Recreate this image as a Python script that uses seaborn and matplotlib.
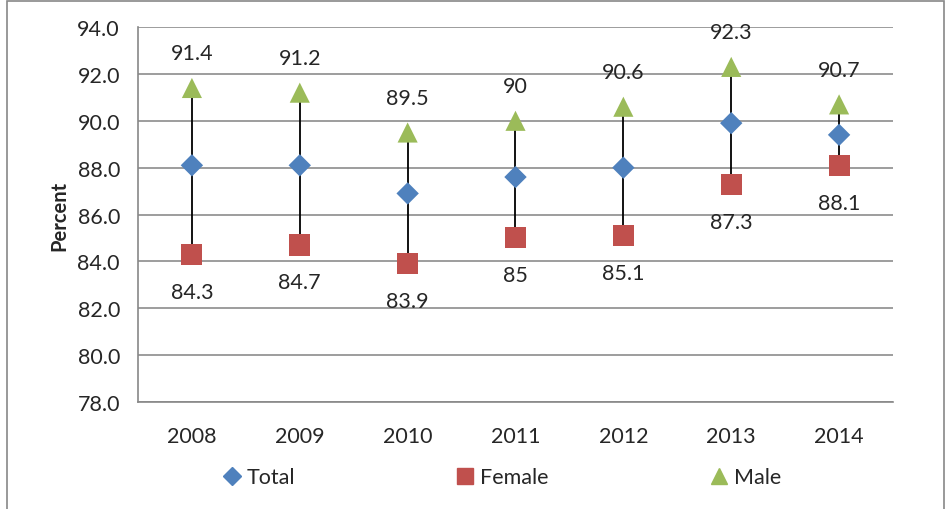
import numpy as np
import pandas as pd
import matplotlib
matplotlib.use('Agg')
import matplotlib.pyplot as plt
from matplotlib.patches import Rectangle
import seaborn as sns

years = ['2008', '2009', '2010', '2011', '2012', '2013', '2014']
total = [88.1, 88.1, 86.9, 87.6, 88.0, 89.9, 89.4]
female = [84.3, 84.7, 83.9, 85.0, 85.1, 87.3, 88.1]
male = [91.4, 91.2, 89.5, 90.0, 90.6, 92.3, 90.7]
female_labels = ['84.3', '84.7', '83.9', '85', '85.1', '87.3', '88.1']
male_labels = ['91.4', '91.2', '89.5', '90', '90.6', '92.3', '90.7']

sns.set_style('white')
plt.rcParams['font.family'] = ['Lato', 'DejaVu Sans']
fs = 15.5

df = pd.DataFrame({'year': years * 3,
                   'value': total + female + male,
                   'series': ['Total'] * 7 + ['Female'] * 7 + ['Male'] * 7})
df['x'] = df['year'].map({y: i for i, y in enumerate(years)})

colors = {'Total': '#4F81BD', 'Female': '#C0504D', 'Male': '#9BBB59'}
markers = {'Total': 'D', 'Female': 's', 'Male': '^'}
sizes = {'Total': 130, 'Female': 230, 'Male': 210}

fig = plt.figure(figsize=(9.47, 5.10), dpi=100)
fig.patches.append(Rectangle((0.007, -0.05), 0.99, 1.046, transform=fig.transFigure,
                             fill=False, edgecolor='#888888', linewidth=1.2))
ax = fig.add_axes([0.1457, 0.2098, 0.7973, 0.7352])

xs = np.arange(len(years))
ax.vlines(xs, female, male, color='black', linewidth=1.3, zorder=2)

for s in ['Total', 'Female', 'Male']:
    sub = df[df['series'] == s]
    sns.scatterplot(data=sub, x='x', y='value', marker=markers[s], color=colors[s],
                    s=sizes[s], edgecolor='none', ax=ax, zorder=3, label=s, legend=False)

for i in range(len(years)):
    ax.annotate(male_labels[i], (xs[i], male[i]), xytext=(0, 25), textcoords='offset points',
                ha='center', va='center', fontsize=fs)
    ax.annotate(female_labels[i], (xs[i], female[i]), xytext=(0, -27), textcoords='offset points',
                ha='center', va='center', fontsize=fs)

ax.set_xlim(-0.5, 6.5)
ax.set_ylim(78, 94)
ax.set_yticks(np.arange(78, 94.1, 2))
ax.set_yticklabels(['%.1f' % v for v in np.arange(78, 94.1, 2)], fontsize=fs)
ax.set_xticks(xs)
ax.set_xticklabels(years, fontsize=fs)
ax.set_xticks(np.arange(-0.5, 6.6, 1), minor=True)
ax.tick_params(axis='x', which='major', length=0, pad=17)
ax.tick_params(axis='x', which='minor', length=6, color='#888888', direction='out')
ax.tick_params(axis='y', length=7, color='#888888', direction='out', pad=6)
ax.yaxis.grid(True, color='#8c8c8c', linewidth=1.2)
ax.set_axisbelow(True)
for side in ['top', 'right']:
    ax.spines[side].set_visible(False)
ax.spines['left'].set_color('#888888')
ax.spines['bottom'].set_color('#888888')
ax.spines['left'].set_linewidth(1.2)
ax.spines['bottom'].set_linewidth(1.2)
ax.set_xlabel('')
ax.set_ylabel('Percent', fontsize=14.5, fontweight='bold', labelpad=6)

handles = [plt.Line2D([], [], marker=markers[s], color=colors[s], linestyle='none',
                      markersize=11 if s != 'Total' else 9) for s in ['Total', 'Female', 'Male']]
fig.legend(handles, ['Total', 'Female', 'Male'], loc='center', bbox_to_anchor=(0.528, 0.062),
           ncol=3, frameon=False, fontsize=fs, columnspacing=7.3, handletextpad=0.1,
           handlelength=1.2)

fig.savefig('out.png', dpi=100)
